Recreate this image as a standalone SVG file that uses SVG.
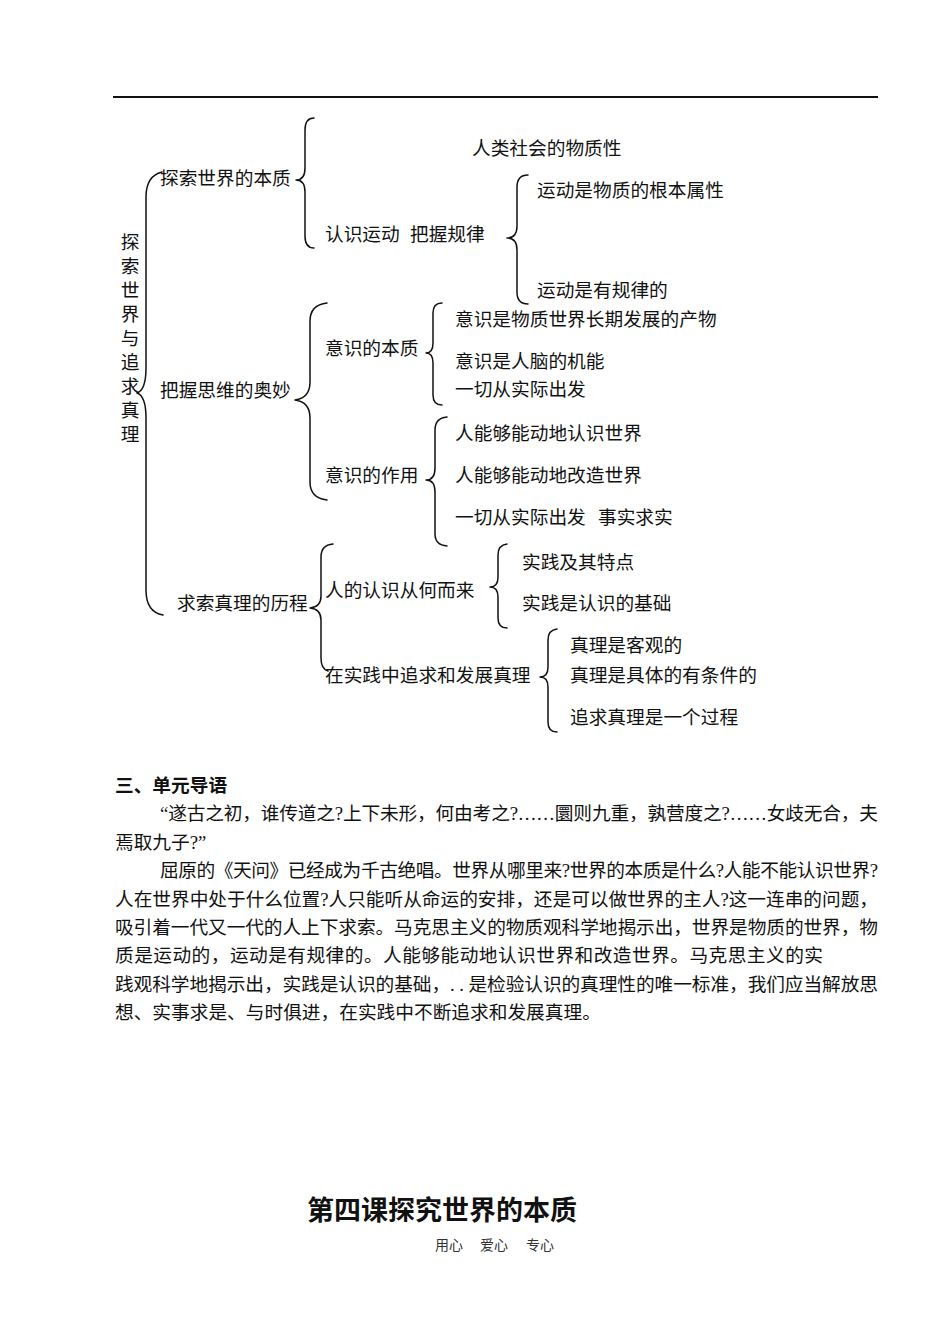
<svg xmlns="http://www.w3.org/2000/svg" width="950" height="1342" viewBox="0 0 950 1342">
<style>
text{font-family:"Liberation Serif","Noto Sans CJK SC",serif;fill:#111;}
.t{font-size:18.7px;}
.p{font-size:18.7px;}
.h{font-size:18.7px;font-weight:bold;font-family:"Noto Sans CJK SC",sans-serif;}
.title{font-size:27px;font-weight:bold;font-family:"Noto Sans CJK SC",sans-serif;}
.sub{font-size:14px;fill:#333;}
.br{fill:none;stroke:#111;stroke-width:1.5;stroke-linecap:round;stroke-linejoin:round;}
</style>
<rect width="950" height="1342" fill="#fff"/>
<line x1="113" y1="97" x2="878" y2="97" stroke="#111" stroke-width="2"/>

<g id="connectors">
<path class="br" d="M162,172 Q146,176 146,197 L146,368 Q146,390 137,393 Q146,396 146,418 L146,590 Q146,612 163,615"/>
<path class="br" d="M314,118 Q305,118 305,130 L305,168 Q305,180 296,180 Q305,180 305,192 L305,236 Q305,248 314,248"/>
<path class="br" d="M528,175 Q517,175 517,187 L517,226 Q517,238 507,238 Q517,238 517,250 L517,292 Q517,304 528,304"/>
<path class="br" d="M327,303 Q310,305 310,321 L310,382 Q310,398 295,400 Q310,402 310,418 L310,482 Q310,498 327,500"/>
<path class="br" d="M442,303 Q433,303 433,313 L433,343 Q433,353 426,353 Q433,353 433,363 L433,395 Q433,405 442,405"/>
<path class="br" d="M447,417 Q435,418 435,430 L435,468 Q435,480 426,480 Q435,480 435,492 L435,534 Q435,545 447,546"/>
<path class="br" d="M333,544 Q321,545 321,557 L321,596 Q321,607 310,608 Q321,609 321,620 L321,658 Q321,669 328,671"/>
<path class="br" d="M507,544 Q498,545 498,555 L498,577 Q498,587 490,587 Q498,587 498,597 L498,618 Q498,628 507,628"/>
<path class="br" d="M557,629 Q548,630 548,640 L548,667 Q548,677 540,677 Q548,677 548,687 L548,722 Q548,732 557,732"/>
</g>

<g id="root"><text class="t" text-anchor="middle"><tspan x="130" y="249">探</tspan><tspan x="130" y="273">索</tspan><tspan x="130" y="297">世</tspan><tspan x="130" y="321">界</tspan><tspan x="130" y="345">与</tspan><tspan x="130" y="369">追</tspan><tspan x="130" y="393">求</tspan><tspan x="130" y="417">真</tspan><tspan x="130" y="441">理</tspan></text></g>

<g id="n-benzhi"><text class="t" x="160" y="185">探索世界的本质</text></g>
<g id="n-renlei"><text class="t" x="472" y="155">人类社会的物质性</text></g>
<g id="n-renshi-yundong"><text class="t" y="241"><tspan x="325">认识运动</tspan><tspan x="410">把握规律</tspan></text></g>
<g id="n-yundong1"><text class="t" x="537" y="197">运动是物质的根本属性</text></g>
<g id="n-yundong2"><text class="t" x="537" y="297">运动是有规律的</text></g>

<g id="n-siwei"><text class="t" x="160" y="397">把握思维的奥妙</text></g>
<g id="n-yishi-benzhi"><text class="t" x="325" y="355">意识的本质</text></g>
<g id="n-ys1"><text class="t" x="455" y="326">意识是物质世界长期发展的产物</text></g>
<g id="n-ys2"><text class="t" x="455" y="368">意识是人脑的机能</text></g>
<g id="n-ys3"><text class="t" x="455" y="396">一切从实际出发</text></g>
<g id="n-yishi-zuoyong"><text class="t" x="325" y="482">意识的作用</text></g>
<g id="n-zy1"><text class="t" x="455" y="440">人能够能动地认识世界</text></g>
<g id="n-zy2"><text class="t" x="455" y="482">人能够能动地改造世界</text></g>
<g id="n-zy3"><text class="t" y="524"><tspan x="455">一切从实际出发</tspan><tspan x="598">事实求实</tspan></text></g>

<g id="n-lichen"><text class="t" x="177" y="610">求索真理的历程</text></g>
<g id="n-renshi-laiyuan"><text class="t" x="325" y="597">人的认识从何而来</text></g>
<g id="n-sj1"><text class="t" x="522" y="569">实践及其特点</text></g>
<g id="n-sj2"><text class="t" x="522" y="610">实践是认识的基础</text></g>
<g id="n-zhuiqiu"><text class="t" x="325" y="682">在实践中追求和发展真理</text></g>
<g id="n-zl1"><text class="t" x="570" y="652">真理是客观的</text></g>
<g id="n-zl2"><text class="t" x="570" y="682">真理是具体的有条件的</text></g>
<g id="n-zl3"><text class="t" x="570" y="724">追求真理是一个过程</text></g>

<g id="intro">
<text class="h" x="115" y="792">三、单元导语</text>
<text class="p" x="160" y="820" textLength="718" lengthAdjust="spacing">“遂古之初，谁传道之?上下未形，何由考之?……圜则九重，孰营度之?……女歧无合，夫</text>
<text class="p" x="115" y="849">焉取九子?”</text>
<text class="p" x="160" y="877" textLength="718" lengthAdjust="spacing">屈原的《天问》已经成为千古绝唱。世界从哪里来?世界的本质是什么?人能不能认识世界?</text>
<text class="p" x="115" y="906" textLength="763" lengthAdjust="spacing">人在世界中处于什么位置?人只能听从命运的安排，还是可以做世界的主人?这一连串的问题，</text>
<text class="p" x="115" y="934" textLength="763" lengthAdjust="spacing">吸引着一代又一代的人上下求索。马克思主义的物质观科学地揭示出，世界是物质的世界，物</text>
<text class="p" x="115" y="962" textLength="708" lengthAdjust="spacing">质是运动的，运动是有规律的。人能够能动地认识世界和改造世界。马克思主义的实</text>
<text class="p" x="115" y="991" textLength="763" lengthAdjust="spacing">践观科学地揭示出，实践是认识的基础，. . 是检验认识的真理性的唯一标准，我们应当解放思</text>
<text class="p" x="115" y="1019">想、实事求是、与时俱进，在实践中不断追求和发展真理。</text>
</g>

<g id="footer">
<text class="title" x="307" y="1220">第四课探究世界的本质</text>
<text class="sub" y="1250"><tspan x="435">用心</tspan><tspan x="480">爱心</tspan><tspan x="526">专心</tspan></text>
</g>
</svg>
